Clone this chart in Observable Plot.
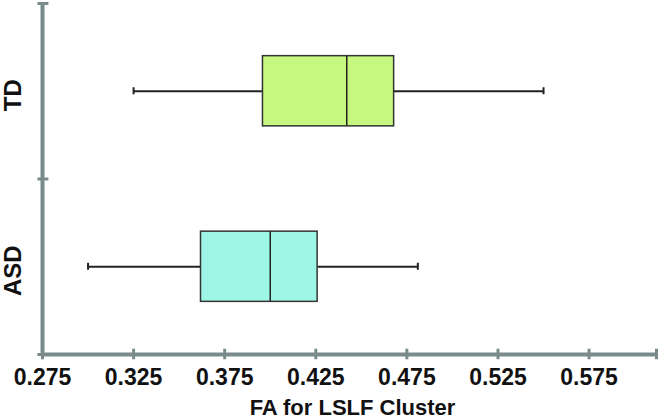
<!DOCTYPE html>
<html>
<head>
<meta charset="utf-8">
<script src="https://cdn.jsdelivr.net/npm/d3@7"></script>
<script src="https://cdn.jsdelivr.net/npm/@observablehq/plot@0.6"></script>
<style>
  html, body { margin: 0; padding: 0; background: #fff; }
</style>
</head>
<body>
<div id="chart"></div>
<script>
// Data
const groups   = ["ASD", "TD"];
const mins     = [0.300, 0.325];
const q1s      = [0.362, 0.396];
const medians  = [0.400, 0.442];
const q3s      = [0.426, 0.468];
const maxs     = [0.481, 0.550];
const fills    = ["#9ef7e6", "#c6f77e"];
const xTickValues = [0.275, 0.325, 0.375, 0.425, 0.475, 0.525, 0.575];
const xDomain  = [0.275, 0.612];
const xTitle   = "FA for LSLF Cluster";

const data = groups.map((g, i) => ({
  group: g, pos: i, min: mins[i], q1: q1s[i], median: medians[i], q3: q3s[i], max: maxs[i]
}));

const axisColor = "#7b8b8b";
const ink = "#222";
const boxHalf = 0.2;
const capHalf = 0.02;
const yBounds = [-0.5, 0.5, 1.5];

const chart = Plot.plot({
  width: 660,
  height: 420,
  marginLeft: 42,
  marginRight: 4,
  marginTop: 3,
  marginBottom: 66,
  style: {fontFamily: "'Liberation Sans', Arial, sans-serif", color: "#111", background: "#fff"},
  x: {domain: xDomain, axis: null},
  y: {domain: [-0.5, 1.5], axis: null},
  color: {domain: groups, range: fills},
  marks: [
    // whiskers
    Plot.ruleY(data, {y: "pos", x1: "min", x2: "q1", stroke: ink, strokeWidth: 2}),
    Plot.ruleY(data, {y: "pos", x1: "q3", x2: "max", stroke: ink, strokeWidth: 2}),
    Plot.ruleX(data, {x: "min", y1: d => d.pos - capHalf, y2: d => d.pos + capHalf, stroke: ink, strokeWidth: 2}),
    Plot.ruleX(data, {x: "max", y1: d => d.pos - capHalf, y2: d => d.pos + capHalf, stroke: ink, strokeWidth: 2}),
    // boxes
    Plot.rect(data, {x1: "q1", x2: "q3", y1: d => d.pos - boxHalf, y2: d => d.pos + boxHalf, fill: "group", stroke: "#333", strokeWidth: 1.5}),
    Plot.ruleX(data, {x: "median", y1: d => d.pos - boxHalf, y2: d => d.pos + boxHalf, stroke: "#222", strokeWidth: 1.5}),
    // axis lines
    Plot.ruleX([xDomain[0]], {stroke: axisColor, strokeWidth: 4}),
    Plot.ruleY([yBounds[0]], {stroke: axisColor, strokeWidth: 4}),
    // x ticks
    Plot.ruleX([...xTickValues, xDomain[1]], {y1: yBounds[0] - 0.03, y2: yBounds[0] + 0.03, stroke: axisColor, strokeWidth: 3}),
    // y ticks
    Plot.ruleY(yBounds, {x1: xDomain[0] - 0.0025, x2: xDomain[0] + 0.0035, stroke: axisColor, strokeWidth: 3}),
    // x tick labels
    Plot.axisX({ticks: xTickValues, tickSize: 0, tickPadding: 14, tickFormat: d3.format(".3f"),
                fontSize: 23, fontWeight: "bold", label: null}),
    // category labels
    Plot.text(data, {y: "pos", text: "group", frameAnchor: "left", dx: -29, dy: 4, rotate: -90,
                     fontSize: 24, fontWeight: "bold", textAnchor: "middle", lineAnchor: "middle", fill: "#111"}),
    // x title
    Plot.text([xTitle], {text: d => d, frameAnchor: "bottom", dy: 53, dx: 3,
                         fontSize: 22, fontWeight: "bold", lineAnchor: "middle", fill: "#111"})
  ]
});

document.getElementById("chart").appendChild(chart);
</script>
</body>
</html>
